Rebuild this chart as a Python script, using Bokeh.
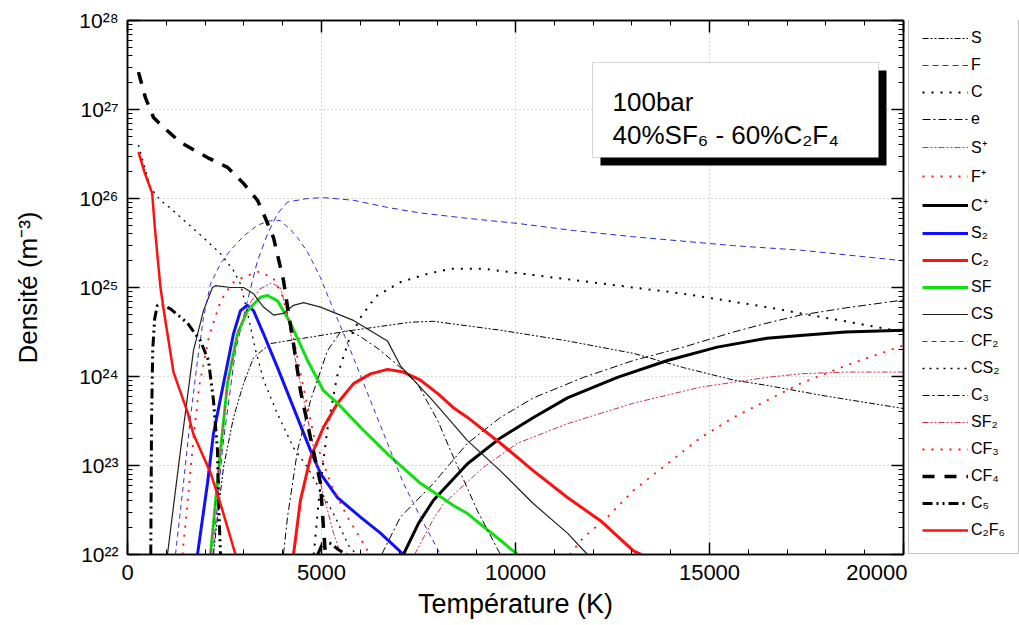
import math
from bokeh.plotting import figure
from bokeh.layouts import row
from bokeh.models import (Range1d, LinearAxis, LogAxis, FixedTicker, CustomJSTickFormatter,
                          Legend, LegendItem, BoxAnnotation, Label)
from bokeh.embed import file_html
from bokeh.resources import INLINE

# ---------------- data (temperature in K, density read as log10(m^-3)) ----------------
CF4_T = [283, 464, 670, 928, 1366, 2062, 2577, 2990, 3350, 3505, 3763, 4020, 4150, 4278, 4458, 4716, 4974, 5051, 5100]
CF4_L = [27.42, 27.13, 26.91, 26.80, 26.63, 26.46, 26.35, 26.17, 25.98, 25.83, 25.56, 25.08, 24.71, 24.37, 23.84, 23.31, 22.80, 22.30, 22.0]

C5_T = [600, 620, 650, 700, 770, 900, 1108, 1546, 1881, 2087, 2216, 2319, 2345, 2397, None, 4900, 5000, 5100, 5250, 5450, 5650]
C5_L = [22.0, 23.5, 24.3, 24.65, 24.80, 24.80, 24.76, 24.60, 24.40, 24.18, 23.73, 23.17, 22.61, 22.0, None, 22.0, 22.1, 22.15, 22.12, 22.05, 22.0]

C2F6_T = [283, 450, 636, 700, 773, 850, 950, 1185, 1546, 1700, 2139, 2397, 2783]
C2F6_L = [26.52, 26.28, 26.06, 25.7, 25.35, 25.0, 24.7, 24.05, 23.6, 23.35, 22.92, 22.57, 22.0]

CF2_T = [1237, 1443, 1623, 1804, 1958, 2139, 2400, 2654, 3000, 3350, 3600, 3800, 3943, 4200, 4381, 4639, 4974, 5309, 5600, 5824, 6262, 6700, 7112, 7550, 8066]
CF2_L = [22.0, 22.8, 23.54, 24.18, 24.66, 25.04, 25.27, 25.42, 25.58, 25.70, 25.74, 25.76, 25.75, 25.65, 25.56, 25.40, 25.11, 24.75, 24.45, 24.21, 23.73, 23.25, 22.8, 22.42, 22.0]

F_T = [2200, 2450, 2783, 3092, 3350, 3608, 3866, 4123, 4639, 5051, 5824, 6700, 7500, 8700, 10050, 11500, 13040, 15620, 17340, 20000]
F_L = [22.0, 23.2, 24.29, 24.85, 25.30, 25.60, 25.83, 25.96, 26.0, 26.01, 25.98, 25.90, 25.84, 25.78, 25.72, 25.64, 25.57, 25.47, 25.42, 25.30]

CS2_T = [283, 593, 850, 1108, 1546, 1958, 2397, 2732, 2912, 3100, 3300, 3505, 3866, 4278, 4639, 4974, 5309, 5700, 5900]
CS2_L = [26.6, 26.12, 25.98, 25.89, 25.72, 25.56, 25.38, 25.19, 25.04, 24.7, 24.3, 23.96, 23.58, 23.2, 22.98, 22.72, 22.46, 22.1, 22.0]

C_T = [4800, 4950, 5150, 5400, 5700, 6004, 6400, 7035, 7700, 8324, 9174, 10463, 11751, 13040, 14328, 15620, 16480, 17340, 18500, 20000]
C_L = [22.0, 22.7, 23.4, 24.0, 24.4, 24.66, 24.9, 25.06, 25.15, 25.21, 25.21, 25.14, 25.07, 25.0, 24.93, 24.84, 24.78, 24.71, 24.62, 24.50]

S_T = [2216, 2320, 2474, 2732, 2990, 3247, 3685, 4536, 5824, 7293, 7886, 9612, 11339, 13040, 14328, 15620, 16480, 18000, 20000]
S_L = [22.0, 22.42, 22.98, 23.54, 23.92, 24.21, 24.37, 24.43, 24.52, 24.61, 24.62, 24.52, 24.40, 24.26, 24.10, 23.96, 23.90, 23.78, 23.64]

E_T = [6550, 7035, 7886, 8762, 9612, 10463, 11751, 13040, 14328, 15620, 16480, 17340, 18500, 20000]
E_L = [22.0, 22.42, 22.8, 23.25, 23.54, 23.76, 23.99, 24.18, 24.33, 24.5, 24.6, 24.69, 24.77, 24.86]

CP_T = [7112, 7500, 7886, 8762, 9612, 10463, 11339, 12627, 13916, 15200, 16480, 17340, 18500, 20000]
CP_L = [22.0, 22.35, 22.61, 23.02, 23.31, 23.54, 23.76, 23.99, 24.18, 24.33, 24.43, 24.46, 24.50, 24.52]

SP_T = [7400, 7886, 8143, 9174, 10050, 11339, 13040, 14766, 16480, 17340, 18500, 20000]
SP_L = [22.0, 22.4, 22.57, 22.98, 23.25, 23.47, 23.70, 23.88, 23.99, 24.03, 24.05, 24.05]

FP_T = [11400, 11751, 12370, 13040, 13916, 14766, 15620, 16480, 17340, 18500, 20000]
FP_L = [22.0, 22.19, 22.42, 22.72, 23.02, 23.31, 23.54, 23.73, 23.92, 24.12, 24.35]

S2_T = [1804, 2062, 2216, 2474, 2732, 2912, 3092, 3247, 3505, 3866, 4278, 4716, 4974, 5412, 6004, 6520, 7112]
S2_L = [22.0, 22.8, 23.36, 23.92, 24.48, 24.74, 24.80, 24.74, 24.48, 24.10, 23.65, 23.17, 22.91, 22.64, 22.42, 22.24, 22.0]

SF_T = [2139, 2397, 2577, 2835, 3092, 3427, 3608, 3866, 4200, 4639, 5051, 5412, 6004, 6700, 7550, 8400, 8762, 9612, 10050]
SF_L = [22.0, 23.17, 23.92, 24.48, 24.74, 24.89, 24.91, 24.85, 24.6, 24.18, 23.84, 23.70, 23.43, 23.13, 22.80, 22.55, 22.46, 22.16, 22.0]

C2_T = [4278, 4458, 4716, 5051, 5412, 5824, 6262, 6700, 7112, 7550, 7989, 8400, 8762, 9612, 10463, 11339, 12190, 13040, 13250]
C2_L = [22.0, 22.61, 23.09, 23.43, 23.70, 23.92, 24.03, 24.08, 24.05, 23.96, 23.81, 23.65, 23.54, 23.25, 22.94, 22.64, 22.38, 22.04, 22.0]

CS_T = [1030, 1366, 1700, 1958, 2190, 2268, 2654, 2990, 3247, 3505, 3763, 4020, 4278, 4536, 4974, 5824, 6700, 7035, 7886, 8762, 9612, 10463, 11339, 11854]
CS_L = [22.0, 23.17, 24.29, 24.74, 25.0, 25.02, 25.0, 25.0, 24.93, 24.78, 24.69, 24.71, 24.80, 24.83, 24.78, 24.63, 24.40, 24.12, 23.72, 23.28, 22.94, 22.57, 22.24, 22.0]

C3_T = [4020, 4123, 4381, 4716, 5154, 5489, 5700, 6000, 6500, 7035, 7473, 8000, 8324, 9020, 9612]
C3_L = [22.0, 22.42, 23.17, 23.73, 24.29, 24.50, 24.52, 24.45, 24.3, 24.1, 23.92, 23.5, 23.17, 22.49, 22.0]

SF2_T = [2139, 2397, 2577, 2835, 3092, 3400, 3700, 3940, 4100, 4278, 4639, 4974, 5309, 5500]
SF2_L = [22.0, 23.17, 23.92, 24.48, 24.78, 24.98, 25.05, 25.0, 24.75, 24.29, 23.54, 22.8, 22.24, 22.0]

CF3_T = [1417, 1550, 1700, 1850, 2100, 2400, 2700, 3000, 3400, 3763, 4000, 4250, 4500, 4793, 5231, 5670, 6082, 6250]
CF3_L = [22.0, 22.6, 23.3, 23.9, 24.45, 24.85, 25.05, 25.12, 25.18, 25.1, 24.9, 24.5, 23.95, 23.35, 22.8, 22.42, 22.12, 22.0]

X_TICKS = [0, 5000, 10000, 15000, 20000]
Y_EXPONENTS = [22, 23, 24, 25, 26, 27, 28]
BOX_LINE1 = "100bar"
BOX_LINE2 = "40%SF\u2086 - 60%C\u2082F\u2084"

# ---------------- helpers for layout (pixel -> data, for annotation placement) ----------------
FL, FT, FW, FH, FB = 127, 20, 776, 534, 71
W_TOTAL, H_TOTAL = 1019, 625
def px_x(px):
    return (px - FL) / FW * 20000.0
def px_y(py):
    return 10 ** (28 - (py - FT) / (FH / 6.0))

def dens(L):
    return [float('nan') if v is None else 10 ** v for v in L]
def temps(T):
    return [float('nan') if v is None else v for v in T]

FONT = "Liberation Sans"

p = figure(x_range=Range1d(0, 20000), y_range=Range1d(1e22, 1e28), y_axis_type="log",
           frame_width=FW, frame_height=FH, min_border_left=FL, min_border_top=FT,
           min_border_bottom=FB, min_border_right=0,
           output_backend="svg", toolbar_location=None)
p.outline_line_color = "black"
p.outline_line_width = 1.5

xt = FixedTicker(ticks=X_TICKS, minor_ticks=list(range(0, 20001, 1000)))
yt = FixedTicker(ticks=[10.0 ** e for e in Y_EXPONENTS],
                 minor_ticks=[k * 10.0 ** e for e in Y_EXPONENTS[:-1] for k in range(1, 10)])
fmt = CustomJSTickFormatter(code="""
const sup = {'0':'\u2070','1':'\u00b9','2':'\u00b2','3':'\u00b3','4':'\u2074','5':'\u2075','6':'\u2076','7':'\u2077','8':'\u2078','9':'\u2079','-':'\u207b'};
const e = Math.round(Math.log10(tick));
return '10' + String(e).split('').map(c => sup[c]).join('');
""")
blank = CustomJSTickFormatter(code="return ' ';")

def style_axis(ax, show):
    ax.axis_line_color = "black"
    ax.axis_line_width = 1.5
    ax.major_tick_line_color = "black"
    ax.minor_tick_line_color = "black"
    ax.major_tick_line_width = 1.5
    ax.minor_tick_line_width = 1
    ax.major_tick_in = 12
    ax.major_tick_out = 0
    ax.minor_tick_in = 5
    ax.minor_tick_out = 0
    ax.major_label_text_font = FONT
    ax.major_label_text_color = "black"
    if not show:
        ax.formatter = blank
        ax.major_label_text_font_size = "2px"
        ax.major_label_standoff = 0

p.xaxis.ticker = xt
p.yaxis.ticker = yt
p.yaxis.formatter = fmt
style_axis(p.xaxis[0], True)
style_axis(p.yaxis[0], True)
p.xaxis.major_label_text_font_size = "22px"
p.yaxis.major_label_text_font_size = "21px"
p.xaxis.major_label_standoff = 10
p.yaxis.major_label_standoff = 9
p.xaxis.axis_label = "Température (K)"
p.yaxis.axis_label = "Densité (m\u207b\u00b3)"
for ax in (p.xaxis[0], p.yaxis[0]):
    ax.axis_label_text_font = FONT
    ax.axis_label_text_font_style = "normal"
    ax.axis_label_text_color = "black"
p.xaxis.axis_label_text_font_size = "27px"
p.yaxis.axis_label_text_font_size = "26px"
p.xaxis.axis_label_standoff = 6
p.yaxis.axis_label_standoff = 33

top_ax = LinearAxis(ticker=xt)
style_axis(top_ax, False)
p.add_layout(top_ax, "above")
right_ax = LogAxis(ticker=yt)
style_axis(right_ax, False)
p.add_layout(right_ax, "right")

for g in (p.xgrid[0], p.ygrid[0]):
    g.grid_line_color = "#b0b0b0"
    g.grid_line_dash = "1 3"
    g.grid_line_width = 1

BLUE = "#1010ff"
RED = "#ff1010"
GREEN = "#10e010"
DRED = "#d0304a"

series = [
    ("S",   S_T,   S_L,   "black", 1.0, "6 2 2 2 2 2"),
    ("F",   F_T,   F_L,   "#2a2ad0", 1.0, "6 4"),
    ("C",   C_T,   C_L,   "black", 2.0, "2 7"),
    ("e",   E_T,   E_L,   "black", 1.0, "8 3 2 3"),
    ("S\u207a",  SP_T,  SP_L,  DRED, 1.0, "6 2 2 2 2 2"),
    ("F\u207a",  FP_T,  FP_L,  RED, 1.8, "2 7"),
    ("C\u207a",  CP_T,  CP_L,  "black", 3.0, "solid"),
    ("S\u2082",  S2_T,  S2_L,  BLUE, 3.0, "solid"),
    ("C\u2082",  C2_T,  C2_L,  RED, 3.0, "solid"),
    ("SF",  SF_T,  SF_L,  GREEN, 3.0, "solid"),
    ("CS",  CS_T,  CS_L,  "#202020", 1.2, "solid"),
    ("CF\u2082", CF2_T, CF2_L, "#3030e0", 1.0, "5 4"),
    ("CS\u2082", CS2_T, CS2_L, "black", 1.3, "2 5"),
    ("C\u2083",  C3_T,  C3_L,  "black", 1.0, "7 3 2 3"),
    ("SF\u2082", SF2_T, SF2_L, DRED, 1.0, "6 2 2 2 2 2"),
    ("CF\u2083", CF3_T, CF3_L, RED, 1.8, "2 7"),
    ("CF\u2084", CF4_T, CF4_L, "black", 3.5, "12 10"),
    ("C\u2085",  C5_T,  C5_L,  "black", 3.0, "10 4 2 4 2 4"),
    ("C\u2082F\u2086", C2F6_T, C2F6_L, RED, 2.5, "solid"),
]

# separate narrow panel on the right that carries the legend
LEG_W = 118
lp = figure(width=LEG_W, height=H_TOTAL, x_range=Range1d(0, 1), y_range=Range1d(0, 1),
            x_axis_location=None, y_axis_location=None, min_border=0,
            output_backend="svg", toolbar_location=None)
lp.grid.visible = False
lp.outline_line_color = None

items = []
for name, T, L, col, w, dash in series:
    p.line(temps(T), dens(L), line_color=col, line_width=w, line_dash=dash)
    # invisible legend proxy (outside this panel's view)
    proxy = lp.line([-5, -4], [-5, -4], line_color=col, line_width=w, line_dash=dash)
    items.append(LegendItem(label=name, renderers=[proxy]))

legend = Legend(items=items, location=(1, 0), orientation="vertical",
                glyph_width=46, glyph_height=20, label_height=20, spacing=7,
                padding=13, margin=0, label_standoff=3,
                label_text_font=FONT, label_text_font_size="16px", label_text_color="black",
                border_line_color="#888888", border_line_width=1,
                background_fill_color="white", background_fill_alpha=1.0)
lp.add_layout(legend)

# info box with shadow
p.add_layout(BoxAnnotation(left=px_x(600), right=px_x(886), top=px_y(70), bottom=px_y(165),
                           fill_color="black", fill_alpha=1.0, line_color=None))
p.add_layout(BoxAnnotation(left=px_x(592), right=px_x(878), top=px_y(62), bottom=px_y(157),
                           fill_color="white", fill_alpha=1.0, line_color="#777777", line_width=1))
p.add_layout(Label(x=px_x(612), y=px_y(101), text=BOX_LINE1, text_font=FONT,
                   text_font_size="26px", text_baseline="alphabetic", text_color="black"))
p.add_layout(Label(x=px_x(612), y=px_y(134), text=BOX_LINE2, text_font=FONT,
                   text_font_size="26px", text_baseline="alphabetic", text_color="black"))

layout = row(p, lp, spacing=0)
open("out.html", "w").write(file_html(layout, INLINE))
